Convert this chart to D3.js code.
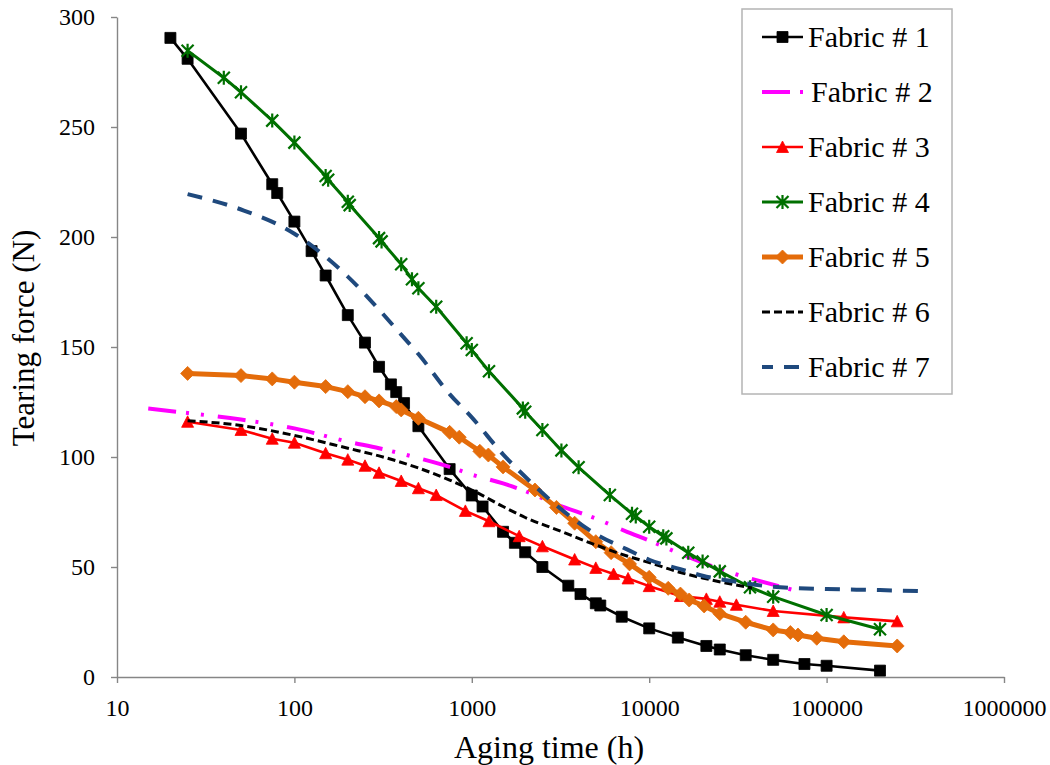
<!DOCTYPE html>
<html>
<head>
<meta charset="utf-8">
<script src="https://cdn.jsdelivr.net/npm/d3@7"></script>
<style>
  html, body { margin: 0; padding: 0; background: #fff; }
  svg { display: block; }
  text { font-family: "Liberation Serif", "Times New Roman", serif; }
</style>
</head>
<body>
<svg id="chart" width="1050" height="765"></svg>
<script>
// Tearing force of fabrics versus aging time (log scale)

const xTicks = [10, 100, 1000, 10000, 100000, 1000000];
const yTicks = [0, 50, 100, 150, 200, 250, 300];

const seriesNames = ["Fabric # 1", "Fabric # 2", "Fabric # 3", "Fabric # 4", "Fabric # 5", "Fabric # 6", "Fabric # 7"];

const timeF1 = [20, 25, 50, 75, 80, 100, 125, 150, 200, 250, 300, 350, 375, 415, 500, 750, 1000, 1150, 1500, 1750, 2000, 2500, 3500, 4100, 5000, 5300, 7000, 10000, 14500, 21000, 25000, 35000, 50000, 75000, 100000, 200000];
const forceF1 = [290.5, 281, 247, 224, 220, 207, 193.6, 182.5, 164.5, 152, 141, 133, 129.5, 124.5, 114, 94.5, 82.5, 77.5, 66, 61, 56.7, 50, 41.5, 37.7, 33.5, 32.5, 27.4, 22.1, 17.9, 14.1, 12.5, 9.9, 7.8, 5.9, 5.1, 2.9];

const timeF2 = [15, 25, 50, 100, 200, 300, 500, 750, 1000, 1500, 2000, 3000, 5000, 7500, 10000, 15000, 20000, 30000, 50000, 65000];
const forceF2 = [122, 120, 117, 113, 107, 104, 99.5, 95.5, 92, 88, 84.5, 78.5, 72, 66, 62, 56, 52, 47, 42, 39.5];

const timeF3 = [25, 50, 75, 100, 150, 200, 250, 300, 400, 500, 630, 920, 1250, 1850, 2500, 3800, 5000, 6300, 7600, 10000, 15000, 21000, 25000, 31000, 50000, 125000, 250000];
const forceF3 = [116, 112.3, 108.3, 106.5, 101.7, 98.8, 96, 92.8, 89.1, 85.8, 82.7, 75.5, 70.8, 64, 59.4, 53.4, 49.6, 46.8, 44.8, 41.3, 36.8, 35.5, 34.2, 32.8, 30, 27.1, 25.3];

const timeF4 = [25, 40, 50, 75, 100, 150, 155, 200, 205, 300, 310, 400, 460, 500, 630, 935, 1000, 1250, 1940, 2000, 2500, 3200, 4000, 6000, 8000, 8400, 10000, 12000, 12500, 16600, 20000, 25000, 37000, 50000, 100000, 200000];
const forceF4 = [284.7, 272.4, 265.8, 252.9, 242.9, 227.7, 226, 216, 214.5, 199.5, 198, 187.6, 180.8, 176.7, 168.3, 151.7, 148.6, 139, 122.1, 120.6, 112.3, 103, 95.3, 82.7, 74.2, 73, 68.3, 64, 63, 56.5, 52.5, 48, 40.8, 36.5, 28.2, 21.7];

const timeF5 = [25, 50, 75, 100, 150, 200, 250, 300, 375, 400, 500, 750, 850, 1110, 1240, 1500, 2270, 3000, 3800, 5000, 6100, 7750, 10000, 12800, 15000, 16800, 20400, 25000, 35000, 50000, 62500, 69000, 88000, 125000, 250000];
const forceF5 = [138, 137, 135.5, 134, 132, 129.7, 127.4, 125.5, 122.9, 121.4, 117.6, 111.2, 109, 102.6, 100.9, 95.5, 85, 77.1, 69.9, 61.5, 56.5, 51.4, 45.3, 40.3, 37.7, 35, 32.3, 28.8, 24.9, 21.4, 20.2, 19.1, 17.6, 16, 14.1];

const timeF6 = [25, 50, 100, 200, 300, 500, 750, 1000, 1500, 2000, 3000, 5000, 7500, 10000, 15000, 20000, 30000, 38000];
const forceF6 = [116.5, 114.3, 109.8, 104, 100.5, 95, 89.5, 85, 77.5, 72.5, 67, 60, 55, 52, 47.5, 45, 42, 40.5];

const timeF7 = [25, 50, 100, 150, 200, 300, 400, 500, 750, 1000, 1500, 2000, 3000, 5000, 7500, 10000, 15000, 20000, 30000, 50000, 100000, 200000, 350000];
const forceF7 = [219.5, 212.5, 201.5, 191, 182, 167, 155.6, 146.8, 128.6, 118, 101.2, 91, 78, 65, 58, 53.3, 49, 46, 43.5, 41, 40, 39.5, 39];

// Drawing style for each series
const styles = [
  { color: "#000000", width: 2.6, dash: null, marker: "square", smooth: false },
  { color: "#FF00FF", width: 4, dash: "28,10,3,12,3,14", marker: null, smooth: true },
  { color: "#FF0000", width: 2.6, dash: null, marker: "triangle", smooth: false },
  { color: "#007000", width: 3, dash: null, marker: "star", smooth: false },
  { color: "#E46C0A", width: 5, dash: null, marker: "diamond", smooth: false },
  { color: "#000000", width: 3, dash: "8,4", marker: null, smooth: true },
  { color: "#1F497D", width: 4, dash: "15,11", marker: null, smooth: true, legendOffset: 4 }
];

const times = [timeF1, timeF2, timeF3, timeF4, timeF5, timeF6, timeF7];
const forces = [forceF1, forceF2, forceF3, forceF4, forceF5, forceF6, forceF7];

const series = seriesNames.map((name, i) => ({
  name,
  style: styles[i],
  points: times[i].map((t, j) => ({ t, v: forces[i][j] }))
}));

const svg = d3.select("#chart");
const plotLeft = 117, plotRight = 1004, plotTop = 17, plotBottom = 677;
const serif = "'Liberation Serif', 'Times New Roman', serif";

const x = d3.scaleLog().domain([10, 1000000]).range([plotLeft, plotRight]);
const y = d3.scaleLinear().domain([0, 300]).range([plotBottom, plotTop]);

const axisColor = "#868686";

// Axes
const gx = svg.append("g")
  .attr("transform", `translate(0,${plotBottom})`)
  .call(d3.axisBottom(x).tickValues(xTicks).tickFormat(d3.format("d")).tickSize(6).tickSizeOuter(0).tickPadding(16));
const gy = svg.append("g")
  .attr("transform", `translate(${plotLeft},0)`)
  .call(d3.axisLeft(y).tickValues(yTicks).tickSize(6).tickSizeOuter(0).tickPadding(16));

[gx, gy].forEach(g => {
  g.attr("font-family", serif).attr("font-size", 24);
  g.select(".domain").attr("stroke", axisColor).attr("stroke-width", 1.4);
  g.selectAll(".tick line").attr("stroke", axisColor).attr("stroke-width", 1.4);
  g.selectAll(".tick text").attr("fill", "#000");
});

// Axis titles
svg.append("text")
  .attr("x", 549).attr("y", 758)
  .attr("text-anchor", "middle")
  .attr("font-family", serif)
  .attr("font-size", 32)
  .text("Aging time (h)");

svg.append("text")
  .attr("transform", "translate(34,338) rotate(-90)")
  .attr("text-anchor", "middle")
  .attr("font-family", serif)
  .attr("font-size", 31)
  .text("Tearing force (N)");

// Marker shapes centred on the origin
function markerPath(type) {
  switch (type) {
    case "square": { const h = 5.5; return `M${-h},${-h}H${h}V${h}H${-h}Z`; }
    case "triangle": { const h = 6; return `M0,${-h}L${h},${h - 0.5}L${-h},${h - 0.5}Z`; }
    case "diamond": { const h = 7; return `M0,${-h}L${h},0L0,${h}L${-h},0Z`; }
    case "star": { const h = 7, d = 6; return `M0,${-h}V${h}M${-d},${-d}L${d},${d}M${-d},${d}L${d},${-d}`; }
  }
  return "";
}

function drawMarker(g, type, color) {
  const p = g.append("path").attr("d", markerPath(type));
  if (type === "star") {
    p.attr("fill", "none").attr("stroke", color).attr("stroke-width", 2.2);
  } else {
    p.attr("fill", color).attr("stroke", color).attr("stroke-width", 0.8);
  }
}

const plot = svg.append("g");

series.forEach(s => {
  const line = d3.line()
    .x(d => x(d.t))
    .y(d => y(d.v))
    .curve(s.style.smooth ? d3.curveMonotoneX : d3.curveLinear);

  const g = plot.append("g");
  g.append("path")
    .datum(s.points)
    .attr("d", line)
    .attr("fill", "none")
    .attr("stroke", s.style.color)
    .attr("stroke-width", s.style.width)
    .attr("stroke-linejoin", "round")
    .attr("stroke-linecap", s.style.dash ? "butt" : "round")
    .attr("stroke-dasharray", s.style.dash);

  if (s.style.marker) {
    g.selectAll("g.mk")
      .data(s.points)
      .join("g")
      .attr("class", "mk")
      .attr("transform", d => `translate(${x(d.t)},${y(d.v)})`)
      .each(function () { drawMarker(d3.select(this), s.style.marker, s.style.color); });
  }
});

// Legend
const legend = svg.append("g");
legend.append("rect")
  .attr("x", 742).attr("y", 9)
  .attr("width", 210).attr("height", 385)
  .attr("fill", "#fff")
  .attr("stroke", "#B4B4B4")
  .attr("stroke-width", 1.5);

series.forEach((s, i) => {
  const cy = 37 + i * 55;
  const row = legend.append("g");
  row.append("line")
    .attr("x1", 762).attr("x2", 803)
    .attr("y1", cy).attr("y2", cy)
    .attr("stroke", s.style.color)
    .attr("stroke-width", s.style.width)
    .attr("stroke-dasharray", s.style.dash)
    .attr("stroke-dashoffset", s.style.legendOffset || 0);
  if (s.style.marker) {
    const m = row.append("g").attr("transform", `translate(782.5,${cy})`);
    drawMarker(m, s.style.marker, s.style.color);
  }
  row.append("text")
    .attr("x", i === 1 ? 811 : 808)
    .attr("y", cy + 9.5)
    .attr("font-family", serif)
    .attr("font-size", 30)
    .text(s.name);
});
</script>
</body>
</html>
